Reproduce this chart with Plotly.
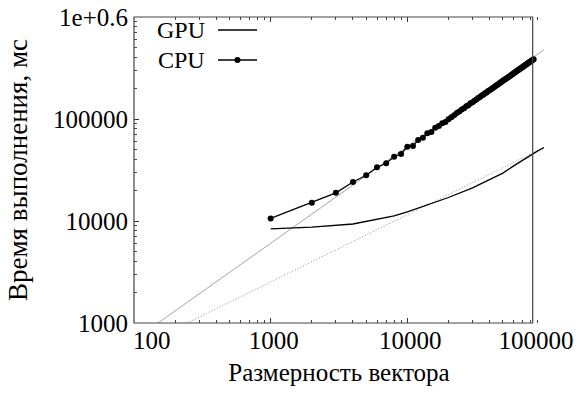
import plotly.graph_objects as go

# ---- data ----
cpu_n = [1000, 2000, 3000, 4000, 5000, 6000, 7000, 8000, 9000, 10000,
         11000, 12000, 13000, 14000, 15000, 16000, 17000, 18000, 19000, 20000,
         21000, 22000, 23000, 24000, 25000, 26000, 27000, 28000, 29000, 30000,
         31000, 32000, 33000, 34000, 35000, 36000, 37000, 38000, 39000, 40000,
         41000, 42000, 43000, 44000, 45000, 46000, 47000, 48000, 49000, 50000,
         51000, 52000, 53000, 54000, 55000, 56000, 57000, 58000, 59000, 60000,
         61000, 62000, 63000, 64000, 65000, 66000, 67000, 68000, 69000, 70000,
         71000, 72000, 73000, 74000, 75000, 76000, 77000, 78000, 79000, 80000,
         81000, 82000, 83000, 84000]
cpu_t = [10600, 15100, 18900, 24100, 28100, 33600, 36800, 42700, 45400, 53500,
         54400, 62200, 65600, 72400, 74600, 82200, 85400, 90800, 93500, 99300,
         104200, 108900, 114800, 118200, 123900, 127400, 133100, 136600, 142300, 145900,
         151200, 155000, 160400, 164200, 169500, 173300, 178600, 182400, 187700, 191600,
         196100, 200700, 205300, 209600, 214200, 218500, 223100, 227600, 231900, 236500,
         240800, 245300, 249600, 254200, 258600, 263000, 267400, 271700, 276300, 280700,
         285000, 289500, 293800, 298400, 302800, 307100, 311600, 315900, 320500, 324700,
         329200, 333400, 337900, 342200, 346600, 350900, 355300, 359600, 363900, 368200,
         372500, 376800, 381000, 385300]

gpu_n = [1000, 2000, 4000, 8000, 10000, 15000, 20000, 30000, 40000, 50000,
         60000, 70000, 80000, 90000, 100000]
gpu_t = [8360, 8700, 9350, 11200, 12300, 14800, 17000, 21100, 25300, 29500,
         34700, 39600, 44500, 48700, 52500]

cpu_fit_n = [150, 100000]
cpu_fit_t = [1000, 478000]
gpu_fit_n = [245, 100000]
gpu_fit_t = [1000, 52500]

x_ticks = [100, 1000, 10000, 100000]
x_tick_text = ["100", "1000", "10000", "100000"]
y_ticks = [1000, 10000, 100000, 1000000]
y_tick_text = ["1000", "10000", "100000", "1e+0.6"]

x_minor = [m * d for d in (100, 1000, 10000) for m in range(2, 10)]
y_minor = [m * d for d in (1000, 10000, 100000) for m in range(2, 10)]

legend_names = ["GPU", "CPU"]

FONT = "Liberation Serif, Times New Roman, serif"
TICKFONT = dict(family=FONT, size=25, color="black")

fig = go.Figure()
fig.add_trace(go.Scatter(x=cpu_fit_n, y=cpu_fit_t, mode="lines",
                         line=dict(color="#9a9a9a", width=0.9), showlegend=False, hoverinfo="skip"))
fig.add_trace(go.Scatter(x=gpu_fit_n, y=gpu_fit_t, mode="lines",
                         line=dict(color="#808080", width=0.9, dash="1px,2px"), showlegend=False,
                         hoverinfo="skip"))
fig.add_trace(go.Scatter(x=gpu_n, y=gpu_t, mode="lines", name=legend_names[0],
                         line=dict(color="black", width=1.3), showlegend=False))
fig.add_trace(go.Scatter(x=cpu_n, y=cpu_t, mode="lines+markers", name=legend_names[1],
                         line=dict(color="black", width=1.3),
                         marker=dict(color="black", size=6), showlegend=False))
# invisible carriers so the label-only overlay axes exist
for ax in ("x2", "x3"):
    fig.add_trace(go.Scatter(x=cpu_fit_n, y=cpu_fit_t, xaxis=ax, mode="lines",
                             line=dict(width=0, color="rgba(0,0,0,0)"), showlegend=False,
                             hoverinfo="skip"))

base = dict(type="log", showgrid=False, zeroline=False, showline=False,
            automargin=False, tickfont=TICKFONT)

# main x axis: all tick marks, labels for the middle decades
fig.update_layout(xaxis=dict(**base, range=[2, 5], tickvals=x_ticks,
                             ticktext=["", x_tick_text[1], x_tick_text[2], ""],
                             ticks="inside", ticklen=5, tickwidth=1, tickcolor="#333",
                             mirror="ticks", ticklabelshift=3, ticklabelstandoff=0,
                             minor=dict(ticks="inside", ticklen=3, tickwidth=1, tickcolor="#444",
                                        tickvals=x_minor, showgrid=False),
                             title=dict(text="Размерность вектора",
                                        font=dict(family=FONT, size=25, color="black"),
                                        standoff=10)))
# overlay axes carrying the end labels (placed as in the picture)
fig.update_layout(xaxis2=dict(**base, range=[2, 5], overlaying="x", anchor="y", side="bottom",
                              tickvals=[x_ticks[0]], ticktext=[x_tick_text[0]], ticks="",
                              ticklabelposition="outside right", ticklabelshift=-1,
                              ticklabelstandoff=0))
fig.update_layout(xaxis3=dict(**base, range=[2, 5], overlaying="x", anchor="y", side="bottom",
                              tickvals=[x_ticks[3]], ticktext=[x_tick_text[3]], ticks="",
                              ticklabelshift=-8, ticklabelstandoff=0))

fig.update_layout(yaxis=dict(**base, range=[3, 6], tickvals=y_ticks, ticktext=y_tick_text,
                             ticks="inside", ticklen=5, tickwidth=1, tickcolor="#333",
                             ticklabelstandoff=5,
                             minor=dict(ticks="inside", ticklen=3, tickwidth=1, tickcolor="#444",
                                        tickvals=y_minor, showgrid=False),
                             title=dict(text="Время выполнения, мс",
                                        font=dict(family=FONT, size=27, color="black"),
                                        standoff=17)))

# frame (right border sits before the 100000 position, as in the picture)
right_edge = 0.9724
shapes = [dict(type="rect", xref="paper", yref="paper", x0=0, x1=right_edge, y0=0, y1=1,
               line=dict(color="#444", width=1.2))]
# legend (text left of sample, gnuplot style)
leg_y = [0.9575, 0.8595]
annotations = []
for name, yy in zip(legend_names, leg_y):
    annotations.append(dict(text=name, xref="paper", yref="paper", x=0.178, y=yy,
                            xanchor="right", yanchor="middle", showarrow=False,
                            font=dict(family=FONT, size=24, color="black")))
    shapes.append(dict(type="line", xref="paper", yref="paper", x0=0.2049, x1=0.30,
                       y0=yy, y1=yy, line=dict(color="black", width=1.3)))
shapes.append(dict(type="circle", xref="paper", yref="paper", xsizemode="pixel", ysizemode="pixel",
                   xanchor=0.2524, yanchor=leg_y[1], x0=-3, x1=3, y0=-3, y1=3,
                   fillcolor="black", line=dict(color="black", width=0)))

fig.update_layout(width=583, height=396, margin=dict(l=134, r=39, t=17, b=73),
                  paper_bgcolor="white", plot_bgcolor="white",
                  shapes=shapes, annotations=annotations, showlegend=False)

fig.write_html("out.html", config={"displayModeBar": False},
               post_script="document.body.style.margin='0';")
